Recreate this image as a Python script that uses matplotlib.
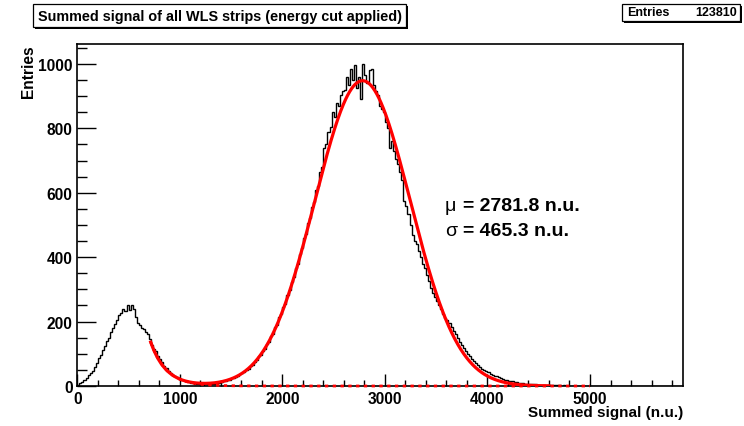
import matplotlib
matplotlib.use('Agg')
import matplotlib.pyplot as plt
import numpy as np
from matplotlib.patches import Rectangle
from matplotlib import font_manager

# ---------------- data ----------------
bin_width = 20
x_max = 5900
# counts per bin, bins [0,20), [20,40), ...
counts_low = [
    3, 8, 12, 18, 25, 33, 40, 46, 58, 70,
    88, 97, 112, 125, 140, 150, 168, 180, 192, 205,
    222, 228, 238, 232, 250, 236, 252, 240, 215, 195,
    188, 180, 176, 168, 160, 146, 128, 115, 108, 92,
    84, 76, 63, 55, 48, 40, 34, 30, 27, 24,
    20, 18, 16, 15, 12, 10, 8, 7, 6, 5,
    5, 4, 5, 6, 5, 6, 7, 8, 9, 10,
]
counts_main = [
    12, 14, 15, 19, 20, 24, 25, 29, 31, 37,
    40, 43, 51, 53, 62, 65, 76, 80, 92, 97,
    110, 115, 131, 137, 155, 162, 182, 190, 213, 224,
    245, 255, 283, 298, 322, 338, 365, 380, 410, 428,
    458, 472, 505, 522, 556, 570, 610, 622, 665, 680,
    740, 752, 790, 805, 850, 835, 880, 870, 905, 915,
    920, 960, 935, 985, 950, 998, 925, 960, 890, 1000,
    965, 940, 980, 985, 935, 915, 905, 870, 860, 850,
    820, 800, 740, 760, 730, 705, 690, 665, 640, 575,
    560, 535, 500, 470, 450, 440, 420, 400, 380, 365,
    345, 325, 305, 290, 275, 265, 250, 238, 225, 212,
    205, 195, 182, 170, 160, 148, 138, 128, 118, 110,
    100, 92, 85, 78, 70, 64, 58, 54, 50, 46,
    42, 38, 35, 32, 30, 28, 25, 22, 20, 18,
    17, 15, 14, 12, 11, 10, 9, 8, 7, 7,
    6, 6, 5, 5, 4, 4, 4, 3, 3, 3,
    3, 2, 2, 3, 2, 2, 1, 2, 1, 1,
    1, 1, 1, 1, 0, 1, 1, 0, 1, 0,
    0, 1, 0, 0, 0, 0, 0, 0, 0, 0,
]
counts_tail = [0, 0, 0, 0, 0, 0, 0, 0, 0, 0,
               0, 0, 0, 0, 0, 0, 0, 0, 0, 0,
               0, 0, 0, 0, 0, 0, 0, 0, 0, 0,
               0, 0, 0, 0, 0]
counts = np.array(counts_low + counts_main + counts_tail, dtype=float)
edges = np.arange(0, x_max + bin_width, bin_width)

# fit: exponential background + gaussian
fit_amp = 948.0
fit_mu = 2781.8
fit_sigma = 465.3
bkg_p0 = 9.639
bkg_slope = -0.0066
fit_lo, fit_hi = 716, 4600
bkg_hi = 5000

title_text = "Summed signal of all WLS strips (energy cut applied)"
entries_label = "Entries"
entries_value = "123810"
x_label = "Summed signal (n.u.)"
y_label = "Entries"
mu_text = "= 2781.8 n.u."
sigma_text = "= 465.3 n.u."

x_major = [0, 1000, 2000, 3000, 4000, 5000]
y_major = [0, 200, 400, 600, 800, 1000]

# ---------------- figure ----------------
W, H = 744, 427
fig = plt.figure(figsize=(W / 100, H / 100), dpi=100)
FONT = ['Liberation Sans', 'DejaVu Sans']
plt.rcParams['font.family'] = FONT

# condensed font for the title if available
try:
    font_manager.findfont(font_manager.FontProperties(family='Liberation Sans Narrow', weight='bold'),
                          fallback_to_default=False)
    TITLE_FONT = ['Liberation Sans Narrow', 'Liberation Sans']
    TITLE_SIZE = 12.4
except Exception:
    TITLE_FONT = ['Liberation Sans', 'DejaVu Sans']
    TITLE_SIZE = 10.4


def fx(px):
    return px / W


def fy(py):
    return 1 - py / H


L, R, T, B = 77.3, 682.7, 45.3, 387.0
ax = fig.add_axes([fx(L), fy(B), (R - L) / W, (B - T) / H])

ax.stairs(counts, edges, color='black', lw=1.0, baseline=None)

xf = np.linspace(fit_lo, fit_hi, 800)
fit_total = np.exp(bkg_p0 + bkg_slope * xf) + fit_amp * np.exp(-0.5 * ((xf - fit_mu) / fit_sigma) ** 2)
xb = np.linspace(fit_lo, bkg_hi, 800)
bkg_curve = np.exp(bkg_p0 + bkg_slope * xb)
ax.plot(xb, bkg_curve, color='#ff0000', lw=2.0, linestyle=(0, (1.2, 1.6)),
        solid_capstyle='butt', clip_on=False, zorder=3)
ax.plot(xf, fit_total, color='#ff0000', lw=2.3, zorder=4)

ax.set_xlim(0, 5904)
ax.set_ylim(0, 1061)
ax.set_xticks(x_major)
ax.set_xticks(np.arange(0, 5901, 200), minor=True)
ax.set_yticks(y_major)
ax.set_yticks(np.arange(0, 1061, 50), minor=True)
ax.set_xticklabels([str(v) for v in x_major])
ax.set_yticklabels([str(v) for v in y_major])
ax.tick_params(axis='x', which='major', direction='in', length=8.6, width=1.0, pad=3.8,
               labelsize=11.2, top=False)
ax.tick_params(axis='x', which='minor', direction='in', length=4.3, width=1.0, top=False)
ax.tick_params(axis='y', which='major', direction='in', length=13.4, width=1.0, pad=3.4,
               labelsize=11.2, right=False)
ax.tick_params(axis='y', which='minor', direction='in', length=7.2, width=1.0, right=False)
for lab in ax.get_xticklabels() + ax.get_yticklabels():
    lab.set_fontweight('bold')
for s in ax.spines.values():
    s.set_linewidth(1.2)

# axis titles
fig.text(fx(683), fy(413.5), x_label, ha='right', va='center', fontsize=11.0, fontweight='bold')
fig.text(fx(28), fy(45.5), y_label, ha='center', va='top', rotation=90, fontsize=11.2,
         fontweight='bold')

# fit result text
fig.text(fx(445), fy(207), "\u03bc", ha='left', va='center', fontsize=14)
fig.text(fx(463), fy(207), mu_text, ha='left', va='center', fontsize=14, fontweight='bold')
fig.text(fx(445), fy(232), "\u03c3", ha='left', va='center', fontsize=14)
fig.text(fx(463), fy(232), sigma_text, ha='left', va='center', fontsize=14, fontweight='bold')


def pave(x0, y0, x1, y1, sh=2):
    fig.patches.append(Rectangle((fx(x0 + sh), fy(y1 + sh)), (x1 - x0) / W, (y1 - y0) / H,
                                 transform=fig.transFigure, facecolor='black', edgecolor='none'))
    fig.patches.append(Rectangle((fx(x0), fy(y1)), (x1 - x0) / W, (y1 - y0) / H,
                                 transform=fig.transFigure, facecolor='white', edgecolor='black',
                                 lw=0.9))


pave(33, 5, 406, 28)
fig.text(fx(219.5), fy(16.8), title_text, ha='center', va='center', fontsize=TITLE_SIZE,
         fontweight='bold', family=TITLE_FONT)
pave(622, 5, 740, 22)
fig.text(fx(627), fy(13.5), entries_label, ha='left', va='center', fontsize=9, fontweight='bold')
fig.text(fx(737), fy(13.5), entries_value, ha='right', va='center', fontsize=9, fontweight='bold')

fig.savefig('out.png', dpi=100)
